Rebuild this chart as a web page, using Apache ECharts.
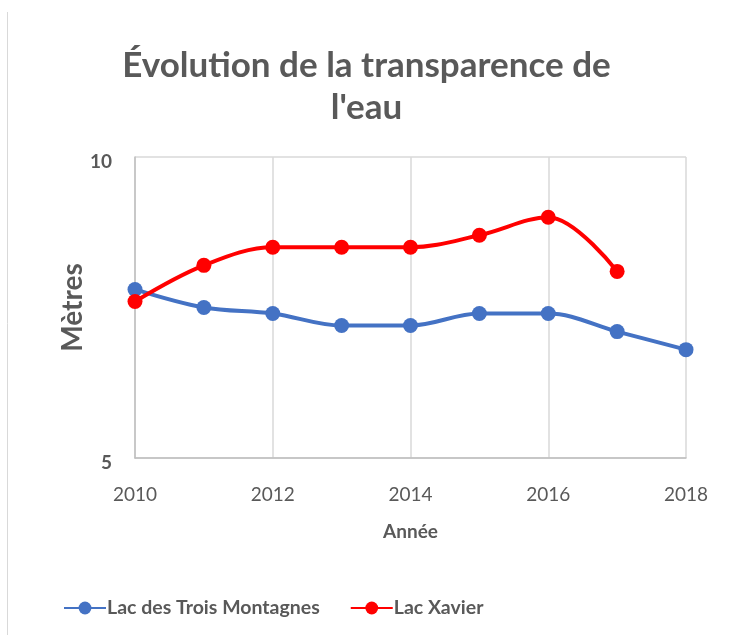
<!DOCTYPE html>
<html>
<head>
<meta charset="utf-8">
<script src="https://cdn.jsdelivr.net/npm/echarts@6/dist/echarts.min.js"></script>
<style>
  html, body { margin: 0; padding: 0; background: #fff; }
  #chart { width: 733px; height: 635px; }
</style>
</head>
<body>
<div id="chart"></div>
<script>
// données
const years = [2010, 2011, 2012, 2013, 2014, 2015, 2016, 2017, 2018]
const troisMontagnes = [7.8, 7.5, 7.4, 7.2, 7.2, 7.4, 7.4, 7.1, 6.8]
const lacXavier = [7.6, 8.2, 8.5, 8.5, 8.5, 8.7, 9.0, 8.1]

const toPoints = (vals) => vals.map((v, i) => [years[i], v])

const chart = echarts.init(document.getElementById('chart'))
const fontFam = 'Lato, "Open Sans", sans-serif'

chart.setOption({
  animation: false,
  textStyle: { fontFamily: fontFam },
  title: {
    text: 'Évolution de la transparence de\nl\'eau',
    left: 'center',
    top: 40,
    textStyle: { fontSize: 35, fontWeight: 'bold', color: '#595959', lineHeight: 42, fontFamily: fontFam }
  },
  legend: {
    bottom: 12,
    left: 58,
    itemWidth: 42,
    itemHeight: 16,
    itemGap: 30,
    textStyle: { fontSize: 19.5, fontWeight: 'bold', color: '#595959', padding: [0, 0, 0, -4] },
    data: ['Lac des Trois Montagnes', 'Lac Xavier']
  },
  grid: { left: 135, right: 47, top: 157, bottom: 177 },
  graphic: [
    { type: 'line', shape: { x1: 7.5, y1: 12, x2: 7.5, y2: 635 }, style: { stroke: '#d9d9d9', lineWidth: 1 } }
  ],
  xAxis: {
    type: 'value',
    min: 2010,
    max: 2018,
    interval: 2,
    name: 'Année',
    nameLocation: 'middle',
    nameGap: 64,
    nameMoveOverlap: false,
    nameTextStyle: { fontSize: 19, fontWeight: 'bold', color: '#595959' },
    axisLine: { show: true, lineStyle: { color: '#bfbfbf', width: 1.5 } },
    axisTick: { show: false },
    axisLabel: { fontSize: 19, color: '#595959', margin: 27, formatter: (v) => String(v) },
    splitLine: { show: true, lineStyle: { color: '#d9d9d9', width: 1.5 } }
  },
  yAxis: {
    type: 'value',
    min: 5,
    max: 10,
    interval: 5,
    name: 'Mètres',
    nameLocation: 'middle',
    nameGap: 48,
    nameMoveOverlap: false,
    nameTextStyle: { fontSize: 28, fontWeight: 'bold', color: '#595959' },
    axisLine: { show: true, lineStyle: { color: '#bfbfbf', width: 1.5 } },
    axisTick: { show: false },
    axisLabel: { fontSize: 19, fontWeight: 'bold', color: '#595959', margin: 23, verticalAlign: 'top', padding: [-5, 0, 0, 0] },
    splitLine: { show: true, lineStyle: { color: '#d9d9d9', width: 1.5 } }
  },
  series: [
    {
      name: 'Lac des Trois Montagnes',
      type: 'line',
      smooth: 0.35,
      data: toPoints(troisMontagnes),
      symbol: 'circle',
      symbolSize: 15,
      lineStyle: { width: 4, color: '#4472c4' },
      itemStyle: { color: '#4472c4' }
    },
    {
      name: 'Lac Xavier',
      type: 'line',
      smooth: 0.35,
      data: toPoints(lacXavier),
      symbol: 'circle',
      symbolSize: 15,
      lineStyle: { width: 4, color: '#ff0000' },
      itemStyle: { color: '#ff0000' }
    }
  ]
})
</script>
</body>
</html>
